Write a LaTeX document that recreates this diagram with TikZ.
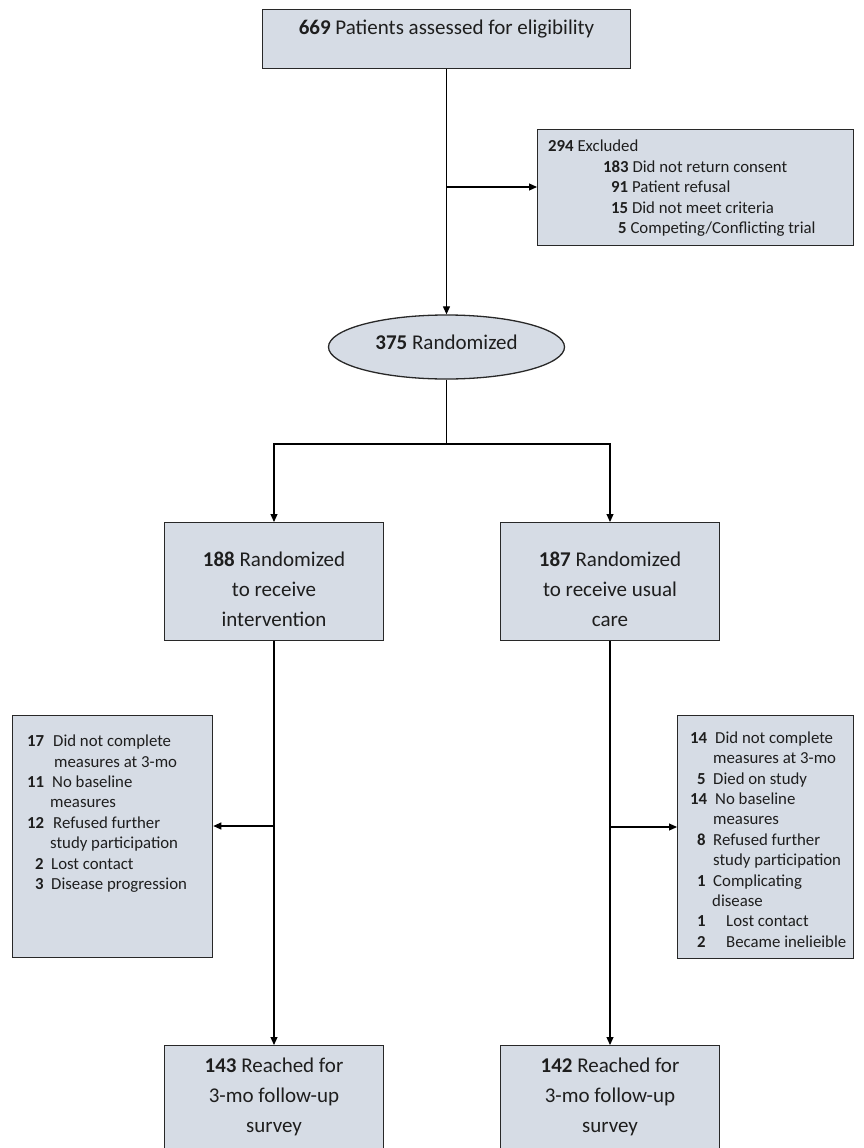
\documentclass[tikz,border=0pt]{standalone}
\usepackage{fontspec}
\setmainfont{Carlito}
\usetikzlibrary{arrows.meta,shapes.geometric}
\definecolor{boxfill}{RGB}{214,220,229}
\definecolor{boxline}{RGB}{40,40,40}
\definecolor{txt}{RGB}{30,30,30}
\begin{document}
\begin{tikzpicture}[x=1pt,y=-1pt,
  box/.style={draw=boxline, line width=1.3pt, fill=boxfill, inner sep=0pt},
  conn/.style={line width=1.1pt, draw=black},
  arr/.style={conn, -{Triangle[length=8pt,width=7pt]}},
  big/.style={font=\fontsize{21}{30}\selectfont, text=txt},
  bigt/.style={big, align=center, inner sep=0pt, anchor=north},
  small/.style={font=\fontsize{16.8}{20.4}\selectfont, text=txt, align=left, inner sep=0pt, anchor=north west},
]
\useasboundingbox (0,0) rectangle (864,1148);

% boxes
\node[box, big, anchor=north, minimum width=368pt, text height=25pt, text depth=34pt] (top) at (446.5,9) {\textbf{669} Patients assessed for eligibility};

\node[box, anchor=north west, minimum width=316pt, minimum height=116pt] (exc) at (537,129) {};
\node[small] (exct) at (548,138.7) {\rule{0pt}{13pt}\textbf{294} Excluded\\
\hspace*{55pt}\textbf{183} Did not return consent\\
\hspace*{63pt}\textbf{91} Patient refusal\\
\hspace*{63pt}\textbf{15} Did not meet criteria\\
\hspace*{70pt}\textbf{5} Competing/Conflicting trial};

\node[box, ellipse, big, minimum width=236pt, minimum height=64pt, text height=16pt, text depth=10.4pt] (rand) at (446.5,347) {\textbf{375} Randomized};

\node[box, anchor=north, minimum width=219pt, minimum height=118pt] (int) at (274,522) {};
\node[bigt] (intt) at (274,550) {\rule{0pt}{16pt}\textbf{188} Randomized\\to receive\\intervention};
\node[box, anchor=north, minimum width=219pt, minimum height=118pt] (usual) at (610,522) {};
\node[bigt] (usualt) at (610,550) {\rule{0pt}{16pt}\textbf{187} Randomized\\to receive usual\\care};

\node[box, anchor=north west, minimum width=200pt, minimum height=242pt] (lft) at (12,715) {};
\node[small] (lftt) at (27,733.5) {\rule{0pt}{13pt}\makebox[26pt][l]{\textbf{17}}Did not complete\\
\hspace*{27pt}measures at 3-mo\\
\makebox[25pt][l]{\textbf{11}}No baseline\\
\hspace*{23pt}measures\\
\makebox[26pt][l]{\textbf{12}}Refused further\\
\hspace*{23pt}study participation\\
\hspace*{8pt}\makebox[16pt][l]{\textbf{2}}Lost contact\\
\hspace*{8pt}\makebox[16pt][l]{\textbf{3}}Disease progression};

\node[box, anchor=north west, minimum width=176pt, minimum height=243pt] (rgt) at (677,715) {};
\node[small] (rgtt) at (690,730) {\rule{0pt}{13pt}\makebox[25pt][l]{\textbf{14}}Did not complete\\
\hspace*{23pt}measures at 3-mo\\
\hspace*{7pt}\makebox[16pt][l]{\textbf{5}}Died on study\\
\makebox[25pt][l]{\textbf{14}}No baseline\\
\hspace*{23pt}measures\\
\hspace*{7pt}\makebox[16pt][l]{\textbf{8}}Refused further\\
\hspace*{23pt}study participation\\
\hspace*{7pt}\makebox[16pt][l]{\textbf{1}}Complicating\\
\hspace*{22pt}disease\\
\hspace*{7pt}\makebox[29pt][l]{\textbf{1}}Lost contact\\
\hspace*{7pt}\makebox[29pt][l]{\textbf{2}}Became inelieible};

\node[box, anchor=north, minimum width=219pt, minimum height=115pt] (fu1) at (274,1045) {};
\node[bigt] (fu1t) at (274,1056) {\rule{0pt}{16pt}\textbf{143} Reached for\\3-mo follow-up\\survey};
\node[box, anchor=north, minimum width=219pt, minimum height=115pt] (fu2) at (610,1045) {};
\node[bigt] (fu2t) at (610,1056) {\rule{0pt}{16pt}\textbf{142} Reached for\\3-mo follow-up\\survey};

% connectors
\draw[arr] (top.south) -- (rand.north);
\coordinate (b1) at (446.5,187);
\draw[arr] (b1) -- (b1 -| exc.west);

\coordinate (split) at (446.5,444);
\draw[conn] (rand.south) -- (split);
\draw[arr] (split) -| (int.north);
\draw[arr] (split) -| (usual.north);

\draw[arr] (int.south) -- (fu1.north);
\coordinate (b2) at (274,826);
\draw[arr] (b2) -- (b2 -| lft.east);

\draw[arr] (usual.south) -- (fu2.north);
\coordinate (b3) at (610,827);
\draw[arr] (b3) -- (b3 -| rgt.west);
\end{tikzpicture}
\end{document}
